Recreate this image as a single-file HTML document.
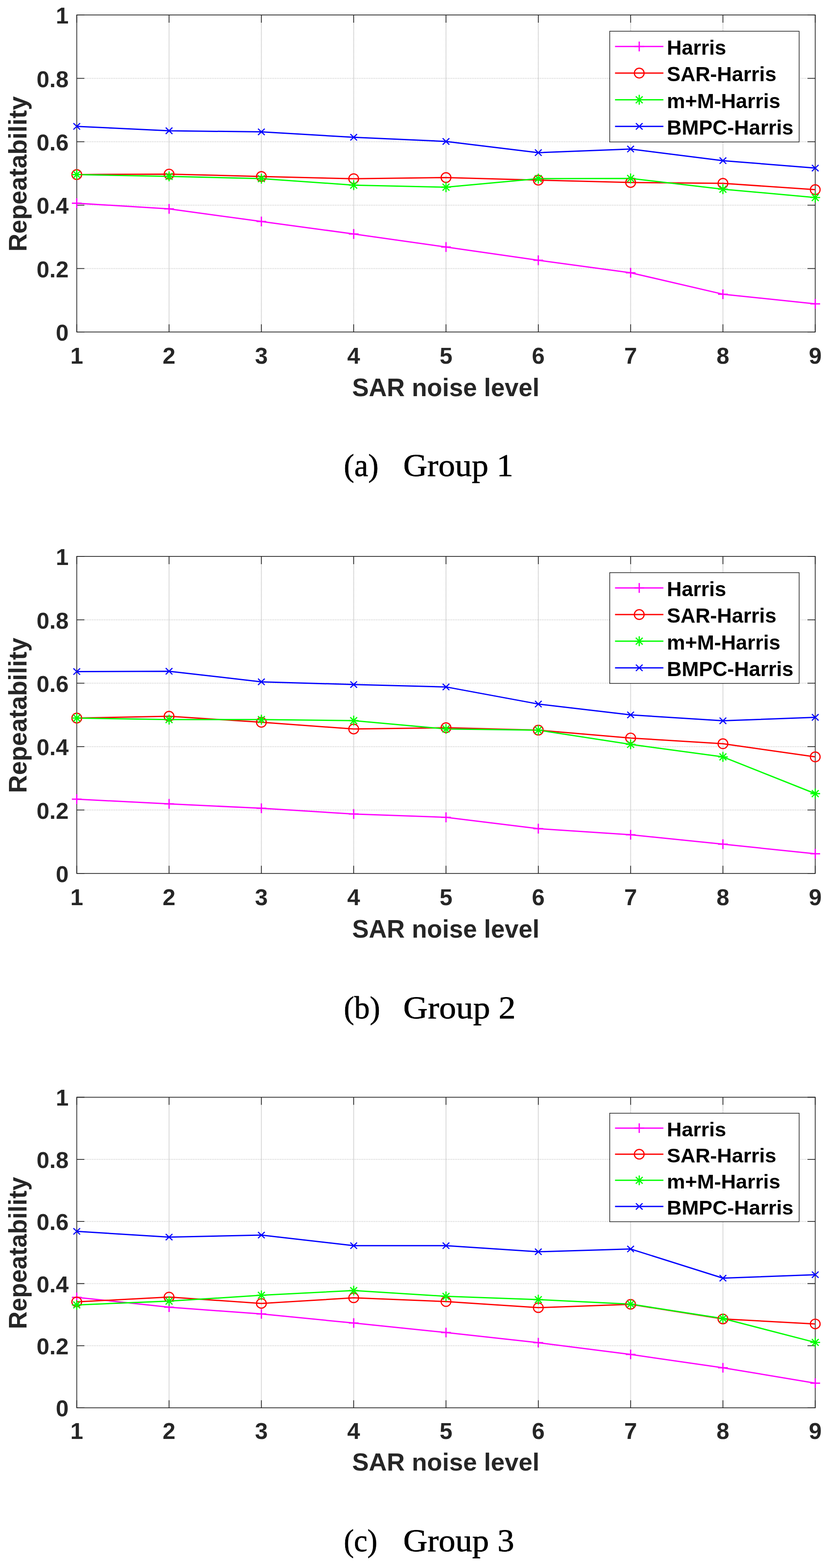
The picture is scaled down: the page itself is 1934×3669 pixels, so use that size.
<!DOCTYPE html>
<html><head><meta charset="utf-8"><title>Repeatability vs SAR noise level</title>
<style>html,body{margin:0;padding:0;background:#fff;}body{width:1934px;height:3669px;overflow:hidden;}svg{display:block;}</style>
</head><body>
<svg width="1934" height="3669" viewBox="0 0 1934 3669">
<path d="M395.38 35V776.8M611.25 35V776.8M827.12 35V776.8M1043 35V776.8M1258.88 35V776.8M1474.75 35V776.8M1690.62 35V776.8" stroke="#b8b8b8" stroke-width="2.2" stroke-dasharray="1 1" fill="none"/>
<path d="M179.5 628.44H1906.5M179.5 480.08H1906.5M179.5 331.72H1906.5M179.5 183.36H1906.5" stroke="#c8c8c8" stroke-width="2.2" stroke-dasharray="1.5 2.5" fill="none"/>
<rect x="179.5" y="35" width="1727" height="741.8" fill="none" stroke="#262626" stroke-width="1.8"/>
<path d="M179.5 776.8V758.8M179.5 35V53M395.38 776.8V758.8M395.38 35V53M611.25 776.8V758.8M611.25 35V53M827.12 776.8V758.8M827.12 35V53M1043 776.8V758.8M1043 35V53M1258.88 776.8V758.8M1258.88 35V53M1474.75 776.8V758.8M1474.75 35V53M1690.62 776.8V758.8M1690.62 35V53M1906.5 776.8V758.8M1906.5 35V53M179.5 776.8H197.5M1906.5 776.8H1888.5M179.5 628.44H197.5M1906.5 628.44H1888.5M179.5 480.08H197.5M1906.5 480.08H1888.5M179.5 331.72H197.5M1906.5 331.72H1888.5M179.5 183.36H197.5M1906.5 183.36H1888.5M179.5 35H197.5M1906.5 35H1888.5" stroke="#262626" stroke-width="1.8" fill="none"/>
<polyline points="179.5,475.6 395.38,488.7 611.25,518.3 827.12,547.4 1043,578.1 1258.88,608.9 1474.75,638.2 1690.62,688.4 1906.5,711" stroke="#ff00ff" stroke-width="3.0" fill="none" stroke-linejoin="round"/>
<polyline points="179.5,408.5 395.38,407.4 611.25,413 827.12,418.2 1043,415.5 1258.88,421.5 1474.75,427 1690.62,429 1906.5,443.8" stroke="#ff0000" stroke-width="3.0" fill="none" stroke-linejoin="round"/>
<polyline points="179.5,408.5 395.38,412.7 611.25,418 827.12,433.2 1043,438 1258.88,418 1474.75,417.6 1690.62,442.7 1906.5,462.2" stroke="#00ff00" stroke-width="3.0" fill="none" stroke-linejoin="round"/>
<polyline points="179.5,295.7 395.38,306 611.25,308.6 827.12,321.2 1043,331 1258.88,357.2 1474.75,348.7 1690.62,375.9 1906.5,393.3" stroke="#0000ff" stroke-width="3.0" fill="none" stroke-linejoin="round"/>
<path d="M168.1 475.6H190.9M179.5 464.1V487.1" stroke="#ff00ff" stroke-width="3" fill="none"/>
<path d="M383.98 488.7H406.77M395.38 477.2V500.2" stroke="#ff00ff" stroke-width="3" fill="none"/>
<path d="M599.85 518.3H622.65M611.25 506.8V529.8" stroke="#ff00ff" stroke-width="3" fill="none"/>
<path d="M815.73 547.4H838.52M827.12 535.9V558.9" stroke="#ff00ff" stroke-width="3" fill="none"/>
<path d="M1031.6 578.1H1054.4M1043 566.6V589.6" stroke="#ff00ff" stroke-width="3" fill="none"/>
<path d="M1247.47 608.9H1270.28M1258.88 597.4V620.4" stroke="#ff00ff" stroke-width="3" fill="none"/>
<path d="M1463.35 638.2H1486.15M1474.75 626.7V649.7" stroke="#ff00ff" stroke-width="3" fill="none"/>
<path d="M1679.22 688.4H1702.03M1690.62 676.9V699.9" stroke="#ff00ff" stroke-width="3" fill="none"/>
<path d="M1895.1 711H1917.9M1906.5 699.5V722.5" stroke="#ff00ff" stroke-width="3" fill="none"/>
<ellipse cx="179.5" cy="408.5" rx="11.4" ry="11.4" stroke="#ff0000" stroke-width="2.7" fill="none"/>
<ellipse cx="395.38" cy="407.4" rx="11.4" ry="11.4" stroke="#ff0000" stroke-width="2.7" fill="none"/>
<ellipse cx="611.25" cy="413" rx="11.4" ry="11.4" stroke="#ff0000" stroke-width="2.7" fill="none"/>
<ellipse cx="827.12" cy="418.2" rx="11.4" ry="11.4" stroke="#ff0000" stroke-width="2.7" fill="none"/>
<ellipse cx="1043" cy="415.5" rx="11.4" ry="11.4" stroke="#ff0000" stroke-width="2.7" fill="none"/>
<ellipse cx="1258.88" cy="421.5" rx="11.4" ry="11.4" stroke="#ff0000" stroke-width="2.7" fill="none"/>
<ellipse cx="1474.75" cy="427" rx="11.4" ry="11.4" stroke="#ff0000" stroke-width="2.7" fill="none"/>
<ellipse cx="1690.62" cy="429" rx="11.4" ry="11.4" stroke="#ff0000" stroke-width="2.7" fill="none"/>
<ellipse cx="1906.5" cy="443.8" rx="11.4" ry="11.4" stroke="#ff0000" stroke-width="2.7" fill="none"/>
<path d="M168.1 408.5H190.9M179.5 396.85V420.15M171.5 400.5L187.5 416.5M171.5 416.5L187.5 400.5" stroke="#00ff00" stroke-width="2.8" fill="none"/>
<path d="M383.98 412.7H406.77M395.38 401.05V424.35M387.38 404.7L403.38 420.7M387.38 420.7L403.38 404.7" stroke="#00ff00" stroke-width="2.8" fill="none"/>
<path d="M599.85 418H622.65M611.25 406.35V429.65M603.25 410L619.25 426M603.25 426L619.25 410" stroke="#00ff00" stroke-width="2.8" fill="none"/>
<path d="M815.73 433.2H838.52M827.12 421.55V444.85M819.12 425.2L835.12 441.2M819.12 441.2L835.12 425.2" stroke="#00ff00" stroke-width="2.8" fill="none"/>
<path d="M1031.6 438H1054.4M1043 426.35V449.65M1035 430L1051 446M1035 446L1051 430" stroke="#00ff00" stroke-width="2.8" fill="none"/>
<path d="M1247.47 418H1270.28M1258.88 406.35V429.65M1250.88 410L1266.88 426M1250.88 426L1266.88 410" stroke="#00ff00" stroke-width="2.8" fill="none"/>
<path d="M1463.35 417.6H1486.15M1474.75 405.95V429.25M1466.75 409.6L1482.75 425.6M1466.75 425.6L1482.75 409.6" stroke="#00ff00" stroke-width="2.8" fill="none"/>
<path d="M1679.22 442.7H1702.03M1690.62 431.05V454.35M1682.62 434.7L1698.62 450.7M1682.62 450.7L1698.62 434.7" stroke="#00ff00" stroke-width="2.8" fill="none"/>
<path d="M1895.1 462.2H1917.9M1906.5 450.55V473.85M1898.5 454.2L1914.5 470.2M1898.5 470.2L1914.5 454.2" stroke="#00ff00" stroke-width="2.8" fill="none"/>
<path d="M171.7 288.25L187.3 303.15M171.7 303.15L187.3 288.25" stroke="#0000ff" stroke-width="2.6" fill="none"/>
<path d="M387.57 298.55L403.18 313.45M387.57 313.45L403.18 298.55" stroke="#0000ff" stroke-width="2.6" fill="none"/>
<path d="M603.45 301.15L619.05 316.05M603.45 316.05L619.05 301.15" stroke="#0000ff" stroke-width="2.6" fill="none"/>
<path d="M819.33 313.75L834.92 328.65M819.33 328.65L834.92 313.75" stroke="#0000ff" stroke-width="2.6" fill="none"/>
<path d="M1035.2 323.55L1050.8 338.45M1035.2 338.45L1050.8 323.55" stroke="#0000ff" stroke-width="2.6" fill="none"/>
<path d="M1251.08 349.75L1266.67 364.65M1251.08 364.65L1266.67 349.75" stroke="#0000ff" stroke-width="2.6" fill="none"/>
<path d="M1466.95 341.25L1482.55 356.15M1466.95 356.15L1482.55 341.25" stroke="#0000ff" stroke-width="2.6" fill="none"/>
<path d="M1682.83 368.45L1698.42 383.35M1682.83 383.35L1698.42 368.45" stroke="#0000ff" stroke-width="2.6" fill="none"/>
<path d="M1898.7 385.85L1914.3 400.75M1898.7 400.75L1914.3 385.85" stroke="#0000ff" stroke-width="2.6" fill="none"/>
<g font-family="Liberation Sans, Arial, sans-serif" font-weight="bold" font-size="54" fill="#262626">
<text x="179.5" y="0" text-anchor="middle" transform="translate(0 850.7) scale(1 1)">1</text>
<text x="395.38" y="0" text-anchor="middle" transform="translate(0 850.7) scale(1 1)">2</text>
<text x="611.25" y="0" text-anchor="middle" transform="translate(0 850.7) scale(1 1)">3</text>
<text x="827.12" y="0" text-anchor="middle" transform="translate(0 850.7) scale(1 1)">4</text>
<text x="1043" y="0" text-anchor="middle" transform="translate(0 850.7) scale(1 1)">5</text>
<text x="1258.88" y="0" text-anchor="middle" transform="translate(0 850.7) scale(1 1)">6</text>
<text x="1474.75" y="0" text-anchor="middle" transform="translate(0 850.7) scale(1 1)">7</text>
<text x="1690.62" y="0" text-anchor="middle" transform="translate(0 850.7) scale(1 1)">8</text>
<text x="1906.5" y="0" text-anchor="middle" transform="translate(0 850.7) scale(1 1)">9</text>
<text x="160.5" y="0" text-anchor="end" transform="translate(0 797.2) scale(1 1)">0</text>
<text x="160.5" y="0" text-anchor="end" transform="translate(0 648.84) scale(1 1)">0.2</text>
<text x="160.5" y="0" text-anchor="end" transform="translate(0 500.48) scale(1 1)">0.4</text>
<text x="160.5" y="0" text-anchor="end" transform="translate(0 352.12) scale(1 1)">0.6</text>
<text x="160.5" y="0" text-anchor="end" transform="translate(0 203.76) scale(1 1)">0.8</text>
<text x="160.5" y="0" text-anchor="end" transform="translate(0 55.4) scale(1 1)">1</text>
</g>
<g font-family="Liberation Sans, Arial, sans-serif" font-weight="bold" font-size="58.4" fill="#262626">
<text x="1042.5" y="0" text-anchor="middle" transform="translate(0 926.7) scale(1 1)">SAR noise level</text>
<text x="0" y="0" text-anchor="middle" transform="translate(61.9 407.1) scale(1 1) rotate(-90)">Repeatability</text>
</g>
<rect x="1425.9" y="73.1" width="442.9" height="259.1" fill="#ffffff" stroke="#262626" stroke-width="1.6"/>
<g font-family="Liberation Sans, Arial, sans-serif" font-weight="bold" font-size="48" fill="#000000">
<path d="M1438.3 108.8H1551.4" stroke="#ff00ff" stroke-width="3.0"/>
<path d="M1483.5 108.8H1506.3M1494.9 97.3V120.3" stroke="#ff00ff" stroke-width="3" fill="none"/>
<text x="1559.5" y="0" transform="translate(0 128.1) scale(1 1)">Harris</text>
<path d="M1438.3 171.1H1551.4" stroke="#ff0000" stroke-width="3.0"/>
<ellipse cx="1494.9" cy="171.1" rx="11.4" ry="11.4" stroke="#ff0000" stroke-width="2.7" fill="none"/>
<text x="1559.5" y="0" transform="translate(0 190.4) scale(1 1)">SAR-Harris</text>
<path d="M1438.3 233.4H1551.4" stroke="#00ff00" stroke-width="3.0"/>
<path d="M1483.5 233.4H1506.3M1494.9 221.75V245.05M1486.9 225.4L1502.9 241.4M1486.9 241.4L1502.9 225.4" stroke="#00ff00" stroke-width="2.8" fill="none"/>
<text x="1559.5" y="0" transform="translate(0 252.7) scale(1 1)">m+M-Harris</text>
<path d="M1438.3 295.7H1551.4" stroke="#0000ff" stroke-width="3.0"/>
<path d="M1487.1 288.25L1502.7 303.15M1487.1 303.15L1502.7 288.25" stroke="#0000ff" stroke-width="2.6" fill="none"/>
<text x="1559.5" y="0" transform="translate(0 315) scale(1 1)">BMPC-Harris</text>
</g>
<g font-family="Liberation Serif, Times New Roman, serif" font-size="74" fill="#000000" stroke="#000000" stroke-width="0.8" stroke-linejoin="round"><text x="804" y="1114.2" textLength="81.28" lengthAdjust="spacingAndGlyphs">(a)</text><text x="943" y="1114.2" textLength="257.6" lengthAdjust="spacingAndGlyphs">Group 1</text></g>
<path d="M395.38 1301.9V2043.8M611.25 1301.9V2043.8M827.12 1301.9V2043.8M1043 1301.9V2043.8M1258.88 1301.9V2043.8M1474.75 1301.9V2043.8M1690.62 1301.9V2043.8" stroke="#b8b8b8" stroke-width="2.2" stroke-dasharray="1 1" fill="none"/>
<path d="M179.5 1895.42H1906.5M179.5 1747.04H1906.5M179.5 1598.66H1906.5M179.5 1450.28H1906.5" stroke="#c8c8c8" stroke-width="2.2" stroke-dasharray="1.5 2.5" fill="none"/>
<rect x="179.5" y="1301.9" width="1727" height="741.9" fill="none" stroke="#262626" stroke-width="1.8"/>
<path d="M179.5 2043.8V2025.8M179.5 1301.9V1319.9M395.38 2043.8V2025.8M395.38 1301.9V1319.9M611.25 2043.8V2025.8M611.25 1301.9V1319.9M827.12 2043.8V2025.8M827.12 1301.9V1319.9M1043 2043.8V2025.8M1043 1301.9V1319.9M1258.88 2043.8V2025.8M1258.88 1301.9V1319.9M1474.75 2043.8V2025.8M1474.75 1301.9V1319.9M1690.62 2043.8V2025.8M1690.62 1301.9V1319.9M1906.5 2043.8V2025.8M1906.5 1301.9V1319.9M179.5 2043.8H197.5M1906.5 2043.8H1888.5M179.5 1895.42H197.5M1906.5 1895.42H1888.5M179.5 1747.04H197.5M1906.5 1747.04H1888.5M179.5 1598.66H197.5M1906.5 1598.66H1888.5M179.5 1450.28H197.5M1906.5 1450.28H1888.5M179.5 1301.9H197.5M1906.5 1301.9H1888.5" stroke="#262626" stroke-width="1.8" fill="none"/>
<polyline points="179.5,1870.1 395.38,1881 611.25,1891.3 827.12,1904.7 1043,1912.4 1258.88,1938.9 1474.75,1953.3 1690.62,1975.3 1906.5,1997.8" stroke="#ff00ff" stroke-width="3.0" fill="none" stroke-linejoin="round"/>
<polyline points="179.5,1680.2 395.38,1676 611.25,1690.1 827.12,1705.7 1043,1702.8 1258.88,1708.5 1474.75,1726.9 1690.62,1740.3 1906.5,1771.1" stroke="#ff0000" stroke-width="3.0" fill="none" stroke-linejoin="round"/>
<polyline points="179.5,1680.2 395.38,1683.8 611.25,1683.8 827.12,1686.2 1043,1705.7 1258.88,1708.5 1474.75,1741.7 1690.62,1771.1 1906.5,1857" stroke="#00ff00" stroke-width="3.0" fill="none" stroke-linejoin="round"/>
<polyline points="179.5,1571.4 395.38,1570.7 611.25,1595.4 827.12,1601.8 1043,1607.4 1258.88,1647.4 1474.75,1672.8 1690.62,1686.6 1906.5,1678.5" stroke="#0000ff" stroke-width="3.0" fill="none" stroke-linejoin="round"/>
<path d="M168.1 1870.1H190.9M179.5 1858.6V1881.6" stroke="#ff00ff" stroke-width="3" fill="none"/>
<path d="M383.98 1881H406.77M395.38 1869.5V1892.5" stroke="#ff00ff" stroke-width="3" fill="none"/>
<path d="M599.85 1891.3H622.65M611.25 1879.8V1902.8" stroke="#ff00ff" stroke-width="3" fill="none"/>
<path d="M815.73 1904.7H838.52M827.12 1893.2V1916.2" stroke="#ff00ff" stroke-width="3" fill="none"/>
<path d="M1031.6 1912.4H1054.4M1043 1900.9V1923.9" stroke="#ff00ff" stroke-width="3" fill="none"/>
<path d="M1247.47 1938.9H1270.28M1258.88 1927.4V1950.4" stroke="#ff00ff" stroke-width="3" fill="none"/>
<path d="M1463.35 1953.3H1486.15M1474.75 1941.8V1964.8" stroke="#ff00ff" stroke-width="3" fill="none"/>
<path d="M1679.22 1975.3H1702.03M1690.62 1963.8V1986.8" stroke="#ff00ff" stroke-width="3" fill="none"/>
<path d="M1895.1 1997.8H1917.9M1906.5 1986.3V2009.3" stroke="#ff00ff" stroke-width="3" fill="none"/>
<ellipse cx="179.5" cy="1680.2" rx="11.4" ry="11.4" stroke="#ff0000" stroke-width="2.7" fill="none"/>
<ellipse cx="395.38" cy="1676" rx="11.4" ry="11.4" stroke="#ff0000" stroke-width="2.7" fill="none"/>
<ellipse cx="611.25" cy="1690.1" rx="11.4" ry="11.4" stroke="#ff0000" stroke-width="2.7" fill="none"/>
<ellipse cx="827.12" cy="1705.7" rx="11.4" ry="11.4" stroke="#ff0000" stroke-width="2.7" fill="none"/>
<ellipse cx="1043" cy="1702.8" rx="11.4" ry="11.4" stroke="#ff0000" stroke-width="2.7" fill="none"/>
<ellipse cx="1258.88" cy="1708.5" rx="11.4" ry="11.4" stroke="#ff0000" stroke-width="2.7" fill="none"/>
<ellipse cx="1474.75" cy="1726.9" rx="11.4" ry="11.4" stroke="#ff0000" stroke-width="2.7" fill="none"/>
<ellipse cx="1690.62" cy="1740.3" rx="11.4" ry="11.4" stroke="#ff0000" stroke-width="2.7" fill="none"/>
<ellipse cx="1906.5" cy="1771.1" rx="11.4" ry="11.4" stroke="#ff0000" stroke-width="2.7" fill="none"/>
<path d="M168.1 1680.2H190.9M179.5 1668.55V1691.85M171.5 1672.2L187.5 1688.2M171.5 1688.2L187.5 1672.2" stroke="#00ff00" stroke-width="2.8" fill="none"/>
<path d="M383.98 1683.8H406.77M395.38 1672.15V1695.45M387.38 1675.8L403.38 1691.8M387.38 1691.8L403.38 1675.8" stroke="#00ff00" stroke-width="2.8" fill="none"/>
<path d="M599.85 1683.8H622.65M611.25 1672.15V1695.45M603.25 1675.8L619.25 1691.8M603.25 1691.8L619.25 1675.8" stroke="#00ff00" stroke-width="2.8" fill="none"/>
<path d="M815.73 1686.2H838.52M827.12 1674.55V1697.85M819.12 1678.2L835.12 1694.2M819.12 1694.2L835.12 1678.2" stroke="#00ff00" stroke-width="2.8" fill="none"/>
<path d="M1031.6 1705.7H1054.4M1043 1694.05V1717.35M1035 1697.7L1051 1713.7M1035 1713.7L1051 1697.7" stroke="#00ff00" stroke-width="2.8" fill="none"/>
<path d="M1247.47 1708.5H1270.28M1258.88 1696.85V1720.15M1250.88 1700.5L1266.88 1716.5M1250.88 1716.5L1266.88 1700.5" stroke="#00ff00" stroke-width="2.8" fill="none"/>
<path d="M1463.35 1741.7H1486.15M1474.75 1730.05V1753.35M1466.75 1733.7L1482.75 1749.7M1466.75 1749.7L1482.75 1733.7" stroke="#00ff00" stroke-width="2.8" fill="none"/>
<path d="M1679.22 1771.1H1702.03M1690.62 1759.45V1782.75M1682.62 1763.1L1698.62 1779.1M1682.62 1779.1L1698.62 1763.1" stroke="#00ff00" stroke-width="2.8" fill="none"/>
<path d="M1895.1 1857H1917.9M1906.5 1845.35V1868.65M1898.5 1849L1914.5 1865M1898.5 1865L1914.5 1849" stroke="#00ff00" stroke-width="2.8" fill="none"/>
<path d="M171.7 1563.95L187.3 1578.85M171.7 1578.85L187.3 1563.95" stroke="#0000ff" stroke-width="2.6" fill="none"/>
<path d="M387.57 1563.25L403.18 1578.15M387.57 1578.15L403.18 1563.25" stroke="#0000ff" stroke-width="2.6" fill="none"/>
<path d="M603.45 1587.95L619.05 1602.85M603.45 1602.85L619.05 1587.95" stroke="#0000ff" stroke-width="2.6" fill="none"/>
<path d="M819.33 1594.35L834.92 1609.25M819.33 1609.25L834.92 1594.35" stroke="#0000ff" stroke-width="2.6" fill="none"/>
<path d="M1035.2 1599.95L1050.8 1614.85M1035.2 1614.85L1050.8 1599.95" stroke="#0000ff" stroke-width="2.6" fill="none"/>
<path d="M1251.08 1639.95L1266.67 1654.85M1251.08 1654.85L1266.67 1639.95" stroke="#0000ff" stroke-width="2.6" fill="none"/>
<path d="M1466.95 1665.35L1482.55 1680.25M1466.95 1680.25L1482.55 1665.35" stroke="#0000ff" stroke-width="2.6" fill="none"/>
<path d="M1682.83 1679.15L1698.42 1694.05M1682.83 1694.05L1698.42 1679.15" stroke="#0000ff" stroke-width="2.6" fill="none"/>
<path d="M1898.7 1671.05L1914.3 1685.95M1898.7 1685.95L1914.3 1671.05" stroke="#0000ff" stroke-width="2.6" fill="none"/>
<g font-family="Liberation Sans, Arial, sans-serif" font-weight="bold" font-size="54" fill="#262626">
<text x="179.5" y="0" text-anchor="middle" transform="translate(0 2117.71) scale(1 1)">1</text>
<text x="395.38" y="0" text-anchor="middle" transform="translate(0 2117.71) scale(1 1)">2</text>
<text x="611.25" y="0" text-anchor="middle" transform="translate(0 2117.71) scale(1 1)">3</text>
<text x="827.12" y="0" text-anchor="middle" transform="translate(0 2117.71) scale(1 1)">4</text>
<text x="1043" y="0" text-anchor="middle" transform="translate(0 2117.71) scale(1 1)">5</text>
<text x="1258.88" y="0" text-anchor="middle" transform="translate(0 2117.71) scale(1 1)">6</text>
<text x="1474.75" y="0" text-anchor="middle" transform="translate(0 2117.71) scale(1 1)">7</text>
<text x="1690.62" y="0" text-anchor="middle" transform="translate(0 2117.71) scale(1 1)">8</text>
<text x="1906.5" y="0" text-anchor="middle" transform="translate(0 2117.71) scale(1 1)">9</text>
<text x="160.5" y="0" text-anchor="end" transform="translate(0 2064.2) scale(1 1)">0</text>
<text x="160.5" y="0" text-anchor="end" transform="translate(0 1915.82) scale(1 1)">0.2</text>
<text x="160.5" y="0" text-anchor="end" transform="translate(0 1767.44) scale(1 1)">0.4</text>
<text x="160.5" y="0" text-anchor="end" transform="translate(0 1619.06) scale(1 1)">0.6</text>
<text x="160.5" y="0" text-anchor="end" transform="translate(0 1470.68) scale(1 1)">0.8</text>
<text x="160.5" y="0" text-anchor="end" transform="translate(0 1322.3) scale(1 1)">1</text>
</g>
<g font-family="Liberation Sans, Arial, sans-serif" font-weight="bold" font-size="58.4" fill="#262626">
<text x="1042.5" y="0" text-anchor="middle" transform="translate(0 2193.72) scale(1 1)">SAR noise level</text>
<text x="0" y="0" text-anchor="middle" transform="translate(61.9 1674.05) scale(1 1) rotate(-90)">Repeatability</text>
</g>
<rect x="1425.9" y="1340.01" width="442.9" height="259.13" fill="#ffffff" stroke="#262626" stroke-width="1.6"/>
<g font-family="Liberation Sans, Arial, sans-serif" font-weight="bold" font-size="48" fill="#000000">
<path d="M1438.3 1375.71H1551.4" stroke="#ff00ff" stroke-width="3.0"/>
<path d="M1483.5 1375.71H1506.3M1494.9 1364.21V1387.21" stroke="#ff00ff" stroke-width="3" fill="none"/>
<text x="1559.5" y="0" transform="translate(0 1395.01) scale(1 1)">Harris</text>
<path d="M1438.3 1438.02H1551.4" stroke="#ff0000" stroke-width="3.0"/>
<ellipse cx="1494.9" cy="1438.02" rx="11.4" ry="11.4" stroke="#ff0000" stroke-width="2.7" fill="none"/>
<text x="1559.5" y="0" transform="translate(0 1457.32) scale(1 1)">SAR-Harris</text>
<path d="M1438.3 1500.33H1551.4" stroke="#00ff00" stroke-width="3.0"/>
<path d="M1483.5 1500.33H1506.3M1494.9 1488.68V1511.98M1486.9 1492.33L1502.9 1508.33M1486.9 1508.33L1502.9 1492.33" stroke="#00ff00" stroke-width="2.8" fill="none"/>
<text x="1559.5" y="0" transform="translate(0 1519.63) scale(1 1)">m+M-Harris</text>
<path d="M1438.3 1562.64H1551.4" stroke="#0000ff" stroke-width="3.0"/>
<path d="M1487.1 1555.18L1502.7 1570.09M1487.1 1570.09L1502.7 1555.18" stroke="#0000ff" stroke-width="2.6" fill="none"/>
<text x="1559.5" y="0" transform="translate(0 1581.94) scale(1 1)">BMPC-Harris</text>
</g>
<g font-family="Liberation Serif, Times New Roman, serif" font-size="74" fill="#000000" stroke="#000000" stroke-width="0.8" stroke-linejoin="round"><text x="804" y="2382.7" textLength="85.1" lengthAdjust="spacingAndGlyphs">(b)</text><text x="943" y="2382.7" textLength="262.8" lengthAdjust="spacingAndGlyphs">Group 2</text></g>
<path d="M395.38 2567.5V3294.2M611.25 2567.5V3294.2M827.12 2567.5V3294.2M1043 2567.5V3294.2M1258.88 2567.5V3294.2M1474.75 2567.5V3294.2M1690.62 2567.5V3294.2" stroke="#b8b8b8" stroke-width="2.2" stroke-dasharray="1 1" fill="none"/>
<path d="M179.5 3148.86H1906.5M179.5 3003.52H1906.5M179.5 2858.18H1906.5M179.5 2712.84H1906.5" stroke="#c8c8c8" stroke-width="2.2" stroke-dasharray="1.5 2.5" fill="none"/>
<rect x="179.5" y="2567.5" width="1727" height="726.7" fill="none" stroke="#262626" stroke-width="1.8"/>
<path d="M179.5 3294.2V3276.57M179.5 2567.5V2585.13M395.38 3294.2V3276.57M395.38 2567.5V2585.13M611.25 3294.2V3276.57M611.25 2567.5V2585.13M827.12 3294.2V3276.57M827.12 2567.5V2585.13M1043 3294.2V3276.57M1043 2567.5V2585.13M1258.88 3294.2V3276.57M1258.88 2567.5V2585.13M1474.75 3294.2V3276.57M1474.75 2567.5V2585.13M1690.62 3294.2V3276.57M1690.62 2567.5V2585.13M1906.5 3294.2V3276.57M1906.5 2567.5V2585.13M179.5 3294.2H197.5M1906.5 3294.2H1888.5M179.5 3148.86H197.5M1906.5 3148.86H1888.5M179.5 3003.52H197.5M1906.5 3003.52H1888.5M179.5 2858.18H197.5M1906.5 2858.18H1888.5M179.5 2712.84H197.5M1906.5 2712.84H1888.5M179.5 2567.5H197.5M1906.5 2567.5H1888.5" stroke="#262626" stroke-width="1.8" fill="none"/>
<polyline points="179.5,3035.7 395.38,3058.7 611.25,3074.6 827.12,3095.8 1043,3118.1 1258.88,3141.8 1474.75,3169.3 1690.62,3200.4 1906.5,3236.5" stroke="#ff00ff" stroke-width="3.0" fill="none" stroke-linejoin="round"/>
<polyline points="179.5,3046.3 395.38,3035 611.25,3049.9 827.12,3036.8 1043,3045.6 1258.88,3059.8 1474.75,3052 1690.62,3086.3 1906.5,3097.9" stroke="#ff0000" stroke-width="3.0" fill="none" stroke-linejoin="round"/>
<polyline points="179.5,3053.4 395.38,3044.6 611.25,3030.8 827.12,3019.8 1043,3033.3 1258.88,3041 1474.75,3051.6 1690.62,3085.2 1906.5,3141.1" stroke="#00ff00" stroke-width="3.0" fill="none" stroke-linejoin="round"/>
<polyline points="179.5,2881.3 395.38,2894.7 611.25,2890.1 827.12,2914.8 1043,2914.8 1258.88,2929 1474.75,2922.6 1690.62,2990.8 1906.5,2982.7" stroke="#0000ff" stroke-width="3.0" fill="none" stroke-linejoin="round"/>
<path d="M168.1 3035.7H190.9M179.5 3024.43V3046.97" stroke="#ff00ff" stroke-width="3" fill="none"/>
<path d="M383.98 3058.7H406.77M395.38 3047.43V3069.97" stroke="#ff00ff" stroke-width="3" fill="none"/>
<path d="M599.85 3074.6H622.65M611.25 3063.33V3085.87" stroke="#ff00ff" stroke-width="3" fill="none"/>
<path d="M815.73 3095.8H838.52M827.12 3084.53V3107.07" stroke="#ff00ff" stroke-width="3" fill="none"/>
<path d="M1031.6 3118.1H1054.4M1043 3106.83V3129.37" stroke="#ff00ff" stroke-width="3" fill="none"/>
<path d="M1247.47 3141.8H1270.28M1258.88 3130.53V3153.07" stroke="#ff00ff" stroke-width="3" fill="none"/>
<path d="M1463.35 3169.3H1486.15M1474.75 3158.03V3180.57" stroke="#ff00ff" stroke-width="3" fill="none"/>
<path d="M1679.22 3200.4H1702.03M1690.62 3189.13V3211.67" stroke="#ff00ff" stroke-width="3" fill="none"/>
<path d="M1895.1 3236.5H1917.9M1906.5 3225.23V3247.77" stroke="#ff00ff" stroke-width="3" fill="none"/>
<ellipse cx="179.5" cy="3046.3" rx="11.4" ry="11.17" stroke="#ff0000" stroke-width="2.7" fill="none"/>
<ellipse cx="395.38" cy="3035" rx="11.4" ry="11.17" stroke="#ff0000" stroke-width="2.7" fill="none"/>
<ellipse cx="611.25" cy="3049.9" rx="11.4" ry="11.17" stroke="#ff0000" stroke-width="2.7" fill="none"/>
<ellipse cx="827.12" cy="3036.8" rx="11.4" ry="11.17" stroke="#ff0000" stroke-width="2.7" fill="none"/>
<ellipse cx="1043" cy="3045.6" rx="11.4" ry="11.17" stroke="#ff0000" stroke-width="2.7" fill="none"/>
<ellipse cx="1258.88" cy="3059.8" rx="11.4" ry="11.17" stroke="#ff0000" stroke-width="2.7" fill="none"/>
<ellipse cx="1474.75" cy="3052" rx="11.4" ry="11.17" stroke="#ff0000" stroke-width="2.7" fill="none"/>
<ellipse cx="1690.62" cy="3086.3" rx="11.4" ry="11.17" stroke="#ff0000" stroke-width="2.7" fill="none"/>
<ellipse cx="1906.5" cy="3097.9" rx="11.4" ry="11.17" stroke="#ff0000" stroke-width="2.7" fill="none"/>
<path d="M168.1 3053.4H190.9M179.5 3041.99V3064.81M171.5 3045.56L187.5 3061.24M171.5 3061.24L187.5 3045.56" stroke="#00ff00" stroke-width="2.8" fill="none"/>
<path d="M383.98 3044.6H406.77M395.38 3033.19V3056.01M387.38 3036.76L403.38 3052.44M387.38 3052.44L403.38 3036.76" stroke="#00ff00" stroke-width="2.8" fill="none"/>
<path d="M599.85 3030.8H622.65M611.25 3019.39V3042.21M603.25 3022.96L619.25 3038.64M603.25 3038.64L619.25 3022.96" stroke="#00ff00" stroke-width="2.8" fill="none"/>
<path d="M815.73 3019.8H838.52M827.12 3008.39V3031.21M819.12 3011.96L835.12 3027.64M819.12 3027.64L835.12 3011.96" stroke="#00ff00" stroke-width="2.8" fill="none"/>
<path d="M1031.6 3033.3H1054.4M1043 3021.89V3044.71M1035 3025.46L1051 3041.14M1035 3041.14L1051 3025.46" stroke="#00ff00" stroke-width="2.8" fill="none"/>
<path d="M1247.47 3041H1270.28M1258.88 3029.59V3052.41M1250.88 3033.16L1266.88 3048.84M1250.88 3048.84L1266.88 3033.16" stroke="#00ff00" stroke-width="2.8" fill="none"/>
<path d="M1463.35 3051.6H1486.15M1474.75 3040.19V3063.01M1466.75 3043.76L1482.75 3059.44M1466.75 3059.44L1482.75 3043.76" stroke="#00ff00" stroke-width="2.8" fill="none"/>
<path d="M1679.22 3085.2H1702.03M1690.62 3073.79V3096.61M1682.62 3077.36L1698.62 3093.04M1682.62 3093.04L1698.62 3077.36" stroke="#00ff00" stroke-width="2.8" fill="none"/>
<path d="M1895.1 3141.1H1917.9M1906.5 3129.69V3152.51M1898.5 3133.26L1914.5 3148.94M1898.5 3148.94L1914.5 3133.26" stroke="#00ff00" stroke-width="2.8" fill="none"/>
<path d="M171.7 2874L187.3 2888.6M171.7 2888.6L187.3 2874" stroke="#0000ff" stroke-width="2.6" fill="none"/>
<path d="M387.57 2887.4L403.18 2902M387.57 2902L403.18 2887.4" stroke="#0000ff" stroke-width="2.6" fill="none"/>
<path d="M603.45 2882.8L619.05 2897.4M603.45 2897.4L619.05 2882.8" stroke="#0000ff" stroke-width="2.6" fill="none"/>
<path d="M819.33 2907.5L834.92 2922.1M819.33 2922.1L834.92 2907.5" stroke="#0000ff" stroke-width="2.6" fill="none"/>
<path d="M1035.2 2907.5L1050.8 2922.1M1035.2 2922.1L1050.8 2907.5" stroke="#0000ff" stroke-width="2.6" fill="none"/>
<path d="M1251.08 2921.7L1266.67 2936.3M1251.08 2936.3L1266.67 2921.7" stroke="#0000ff" stroke-width="2.6" fill="none"/>
<path d="M1466.95 2915.3L1482.55 2929.9M1466.95 2929.9L1482.55 2915.3" stroke="#0000ff" stroke-width="2.6" fill="none"/>
<path d="M1682.83 2983.5L1698.42 2998.1M1682.83 2998.1L1698.42 2983.5" stroke="#0000ff" stroke-width="2.6" fill="none"/>
<path d="M1898.7 2975.4L1914.3 2990M1898.7 2990L1914.3 2975.4" stroke="#0000ff" stroke-width="2.6" fill="none"/>
<g font-family="Liberation Sans, Arial, sans-serif" font-weight="bold" font-size="54" fill="#262626">
<text x="179.5" y="0" text-anchor="middle" transform="translate(0 3366.6) scale(1 0.98)">1</text>
<text x="395.38" y="0" text-anchor="middle" transform="translate(0 3366.6) scale(1 0.98)">2</text>
<text x="611.25" y="0" text-anchor="middle" transform="translate(0 3366.6) scale(1 0.98)">3</text>
<text x="827.12" y="0" text-anchor="middle" transform="translate(0 3366.6) scale(1 0.98)">4</text>
<text x="1043" y="0" text-anchor="middle" transform="translate(0 3366.6) scale(1 0.98)">5</text>
<text x="1258.88" y="0" text-anchor="middle" transform="translate(0 3366.6) scale(1 0.98)">6</text>
<text x="1474.75" y="0" text-anchor="middle" transform="translate(0 3366.6) scale(1 0.98)">7</text>
<text x="1690.62" y="0" text-anchor="middle" transform="translate(0 3366.6) scale(1 0.98)">8</text>
<text x="1906.5" y="0" text-anchor="middle" transform="translate(0 3366.6) scale(1 0.98)">9</text>
<text x="160.5" y="0" text-anchor="end" transform="translate(0 3314.18) scale(1 0.98)">0</text>
<text x="160.5" y="0" text-anchor="end" transform="translate(0 3168.84) scale(1 0.98)">0.2</text>
<text x="160.5" y="0" text-anchor="end" transform="translate(0 3023.5) scale(1 0.98)">0.4</text>
<text x="160.5" y="0" text-anchor="end" transform="translate(0 2878.16) scale(1 0.98)">0.6</text>
<text x="160.5" y="0" text-anchor="end" transform="translate(0 2732.82) scale(1 0.98)">0.8</text>
<text x="160.5" y="0" text-anchor="end" transform="translate(0 2587.48) scale(1 0.98)">1</text>
</g>
<g font-family="Liberation Sans, Arial, sans-serif" font-weight="bold" font-size="58.4" fill="#262626">
<text x="1042.5" y="0" text-anchor="middle" transform="translate(0 3441.05) scale(1 0.98)">SAR noise level</text>
<text x="0" y="0" text-anchor="middle" transform="translate(61.9 2932.03) scale(1 0.98) rotate(-90)">Repeatability</text>
</g>
<rect x="1425.9" y="2604.82" width="442.9" height="253.83" fill="#ffffff" stroke="#262626" stroke-width="1.6"/>
<g font-family="Liberation Sans, Arial, sans-serif" font-weight="bold" font-size="48" fill="#000000">
<path d="M1438.3 2639.8H1551.4" stroke="#ff00ff" stroke-width="3.0"/>
<path d="M1483.5 2639.8H1506.3M1494.9 2628.53V2651.06" stroke="#ff00ff" stroke-width="3" fill="none"/>
<text x="1559.5" y="0" transform="translate(0 2658.7) scale(1 0.98)">Harris</text>
<path d="M1438.3 2700.83H1551.4" stroke="#ff0000" stroke-width="3.0"/>
<ellipse cx="1494.9" cy="2700.83" rx="11.4" ry="11.17" stroke="#ff0000" stroke-width="2.7" fill="none"/>
<text x="1559.5" y="0" transform="translate(0 2719.74) scale(1 0.98)">SAR-Harris</text>
<path d="M1438.3 2761.86H1551.4" stroke="#00ff00" stroke-width="3.0"/>
<path d="M1483.5 2761.86H1506.3M1494.9 2750.45V2773.27M1486.9 2754.02L1502.9 2769.7M1486.9 2769.7L1502.9 2754.02" stroke="#00ff00" stroke-width="2.8" fill="none"/>
<text x="1559.5" y="0" transform="translate(0 2780.77) scale(1 0.98)">m+M-Harris</text>
<path d="M1438.3 2822.89H1551.4" stroke="#0000ff" stroke-width="3.0"/>
<path d="M1487.1 2815.59L1502.7 2830.19M1487.1 2830.19L1502.7 2815.59" stroke="#0000ff" stroke-width="2.6" fill="none"/>
<text x="1559.5" y="0" transform="translate(0 2841.8) scale(1 0.98)">BMPC-Harris</text>
</g>
<g font-family="Liberation Serif, Times New Roman, serif" font-size="74" fill="#000000" stroke="#000000" stroke-width="0.8" stroke-linejoin="round"><text x="804.1" y="3629.6" textLength="78.6" lengthAdjust="spacingAndGlyphs">(c)</text><text x="943" y="3629.6" textLength="259.5" lengthAdjust="spacingAndGlyphs">Group 3</text></g>
</svg>
</body></html>
